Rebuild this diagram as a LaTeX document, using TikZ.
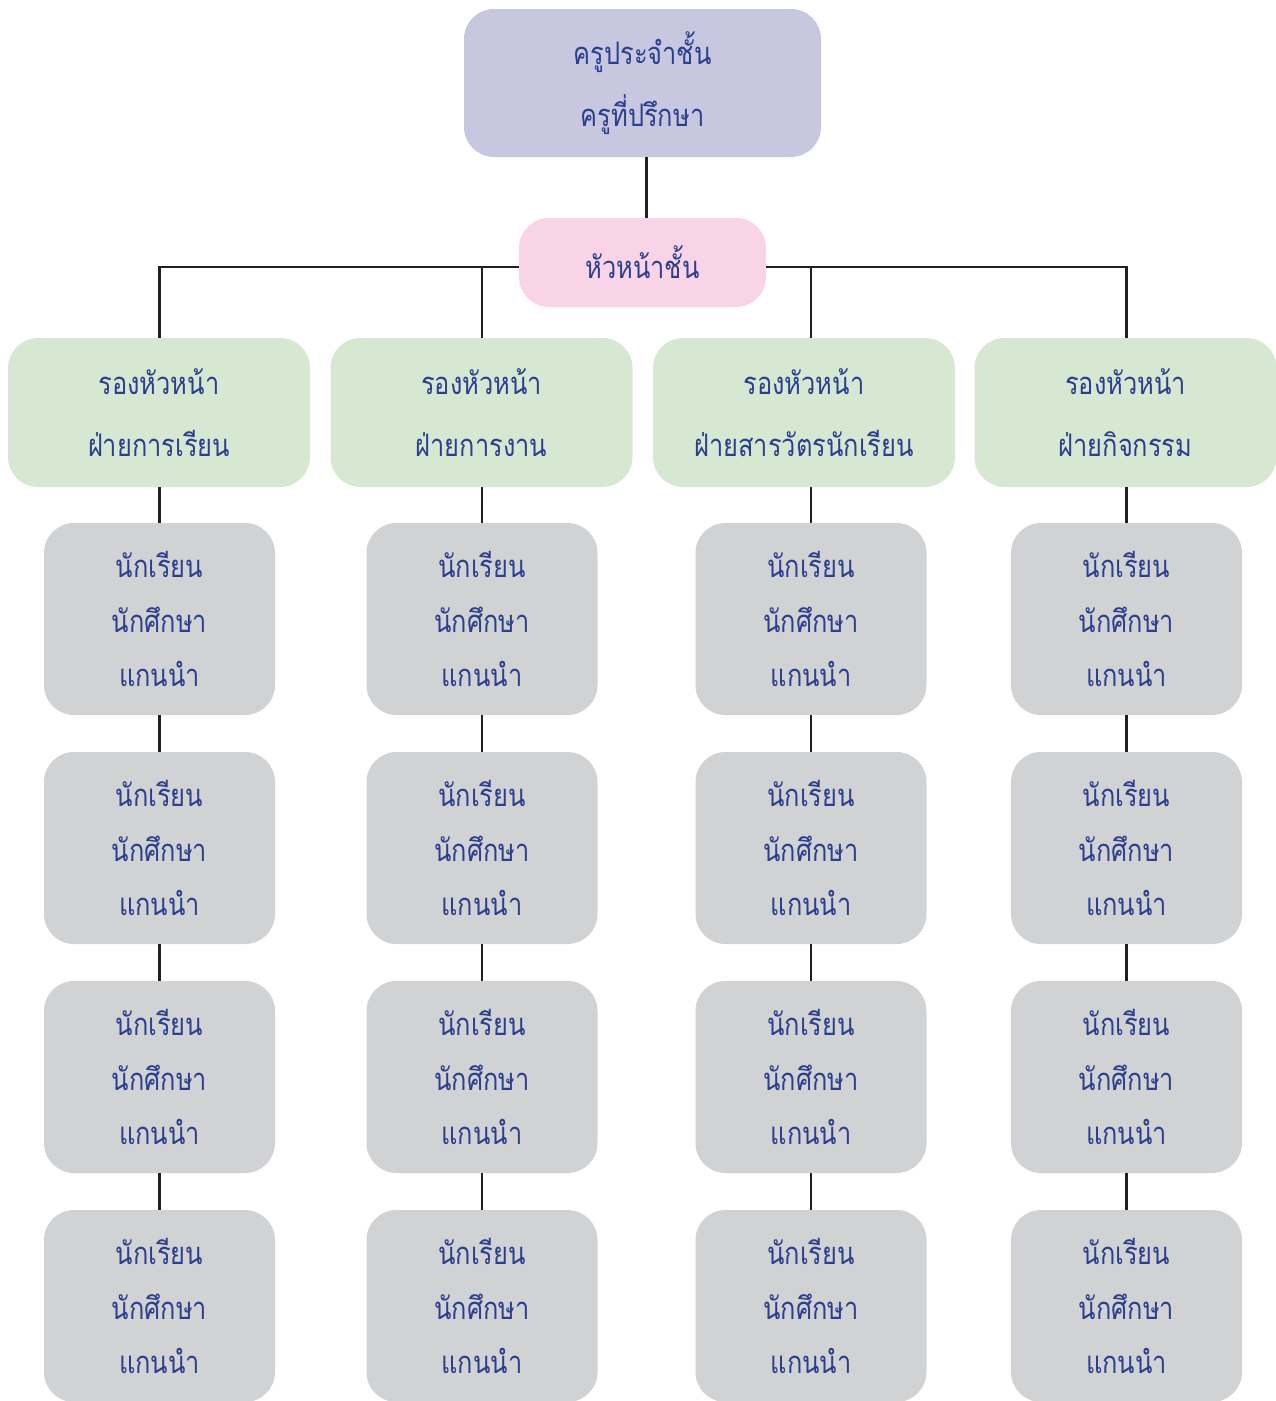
\documentclass[tikz,border=0pt]{standalone}
\usepackage{fontspec}
\newfontfamily\thaifont[Script=Thai,FakeStretch=0.82]{Loma}
\usetikzlibrary{calc}
\definecolor{txtblue}{HTML}{2B3F8E}
\definecolor{topfill}{HTML}{C7C8E0}
\definecolor{pinkfill}{HTML}{F9D4E6}
\definecolor{greenfill}{HTML}{D7E8D2}
\definecolor{grayfill}{HTML}{D1D2D4}
\definecolor{linecol}{HTML}{231F20}
\tikzset{
  box/.style={rectangle, rounded corners=30pt, inner sep=0pt, align=center,
    text=txtblue},
  topbox/.style={box, fill=topfill, minimum width=357pt, minimum height=148pt,
    font=\thaifont\fontsize{31}{62}\selectfont},
  pinkbox/.style={box, fill=pinkfill, minimum width=247pt, minimum height=89pt,
    font=\thaifont\fontsize{31}{62}\selectfont},
  greenbox/.style={box, fill=greenfill, minimum width=302pt, minimum height=149pt,
    font=\thaifont\fontsize{31}{62}\selectfont},
  graybox/.style={box, fill=grayfill, minimum width=231pt, minimum height=192pt,
    font=\thaifont\fontsize{31}{54.5}\selectfont},
  conn/.style={draw=linecol, line width=2.6pt}
}
\begin{document}
\begin{tikzpicture}[x=1pt,y=-1pt]
\useasboundingbox (0,0) rectangle (1276,1401);
\node[topbox] (top) at (642.5,83) {ครูประจำชั้น\\ครูที่ปรึกษา};
\node[pinkbox] (head) at (642.5,262.5) {หัวหน้าชั้น};
\node[greenbox] (v1) at (159,412.5) {รองหัวหน้า\\ฝ่ายการเรียน};
\node[greenbox] (v2) at (481.5,412.5) {รองหัวหน้า\\ฝ่ายการงาน};
\node[greenbox] (v3) at (804,412.5) {รองหัวหน้า\\ฝ่ายสารวัตรนักเรียน};
\node[greenbox] (v4) at (1125.5,412.5) {รองหัวหน้า\\ฝ่ายกิจกรรม};
\foreach \c/\x in {1/159.5,2/482,3/811,4/1126.5}{
  \foreach \r/\y in {1/619,2/848,3/1077,4/1306}{
    \node[graybox] (s\c\r) at (\x,\y) {นักเรียน\\นักศึกษา\\แกนนำ};
  }
}
\coordinate (j1) at (159.5,267);
\coordinate (j2) at (482,267);
\coordinate (j3) at (811,267);
\coordinate (j4) at (1126.5,267);
\draw[conn] ($(top.south)+(4,0)$) -- ($(head.north)+(4,0)$);
\draw[conn] (head.west |- j1) -- (j1) -- (j1 |- v1.north);
\draw[conn] (j2) -- (j2 |- v2.north);
\draw[conn] (head.east |- j4) -- (j4) -- (j4 |- v4.north);
\draw[conn] (j3) -- (j3 |- v3.north);
\foreach \c in {1,2,3,4}{
  \draw[conn] (s\c1.north |- v\c.south) -- (s\c1.north);
  \draw[conn] (s\c1.south) -- (s\c2.north);
  \draw[conn] (s\c2.south) -- (s\c3.north);
  \draw[conn] (s\c3.south) -- (s\c4.north);
}
\end{tikzpicture}
\end{document}
